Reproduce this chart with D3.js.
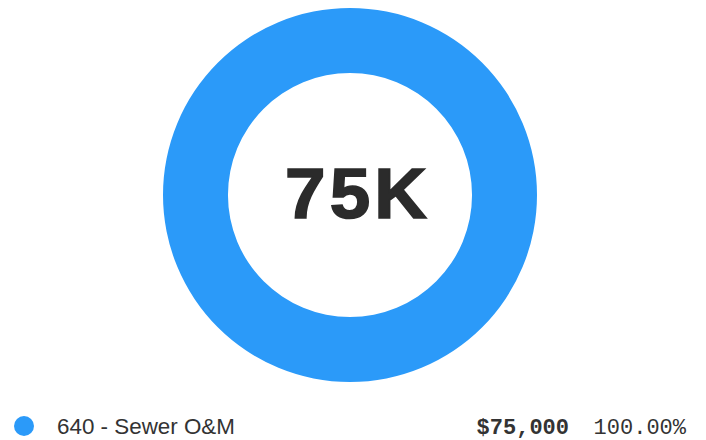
<!DOCTYPE html>
<html>
<head>
<meta charset="utf-8">
<script src="https://cdn.jsdelivr.net/npm/d3@7"></script>
<style>
  body { margin: 0; background: #fff; }
  svg { display: block; }
</style>
</head>
<body>
<svg id="chart" width="706" height="440"></svg>
<script>
const categories = ["640 - Sewer O&M"];
const values = [75000];
const colors = ["#2b9af9"];
const totalLabel = "75K";

const svg = d3.select("#chart");
const width = +svg.attr("width");

const cx = 350, cy = 195;
const outerR = 187, innerR = 122;

const pie = d3.pie().sort(null).value((d) => d);
const arc = d3.arc().innerRadius(innerR).outerRadius(outerR);

const g = svg.append("g").attr("transform", `translate(${cx},${cy})`);

g.selectAll("path")
  .data(pie(values))
  .join("path")
  .attr("d", arc)
  .attr("fill", (d, i) => colors[i]);

// center total, heavy and slightly wide
g.append("text")
  .attr("text-anchor", "middle")
  .attr("transform", "translate(8,23) scale(1.04,1)")
  .attr("font-family", "Liberation Sans, Arial, sans-serif")
  .attr("font-weight", "bold")
  .attr("font-size", 70)
  .attr("letter-spacing", 4)
  .attr("fill", "#2b2b2b")
  .attr("stroke", "#2b2b2b")
  .attr("stroke-width", 1.6)
  .text(totalLabel);

const total = d3.sum(values);
const money = d3.format("$,.0f");
const pct = d3.format(".2%");

const legend = svg.append("g");
const rows = legend.selectAll("g")
  .data(categories)
  .join("g")
  .attr("transform", (d, i) => `translate(0,${426 + i * 30})`);

rows.append("circle")
  .attr("cx", 24)
  .attr("r", 10)
  .attr("fill", (d, i) => colors[i]);

rows.append("text")
  .attr("x", 57)
  .attr("dy", "0.35em")
  .attr("font-family", "Liberation Sans, Arial, sans-serif")
  .attr("font-size", 22.4)
  .attr("fill", "#333")
  .text((d) => d);

rows.append("text")
  .attr("x", width - 20)
  .attr("dy", "0.35em")
  .attr("text-anchor", "end")
  .attr("font-family", "Liberation Mono, Courier New, monospace")
  .attr("font-size", 22)
  .attr("fill", "#333")
  .text((d, i) => pct(values[i] / total));

rows.append("text")
  .attr("x", 569)
  .attr("dy", "0.35em")
  .attr("text-anchor", "end")
  .attr("font-family", "Liberation Mono, Courier New, monospace")
  .attr("font-weight", "bold")
  .attr("font-size", 22)
  .attr("fill", "#333")
  .text((d, i) => money(values[i]));
</script>
</body>
</html>
